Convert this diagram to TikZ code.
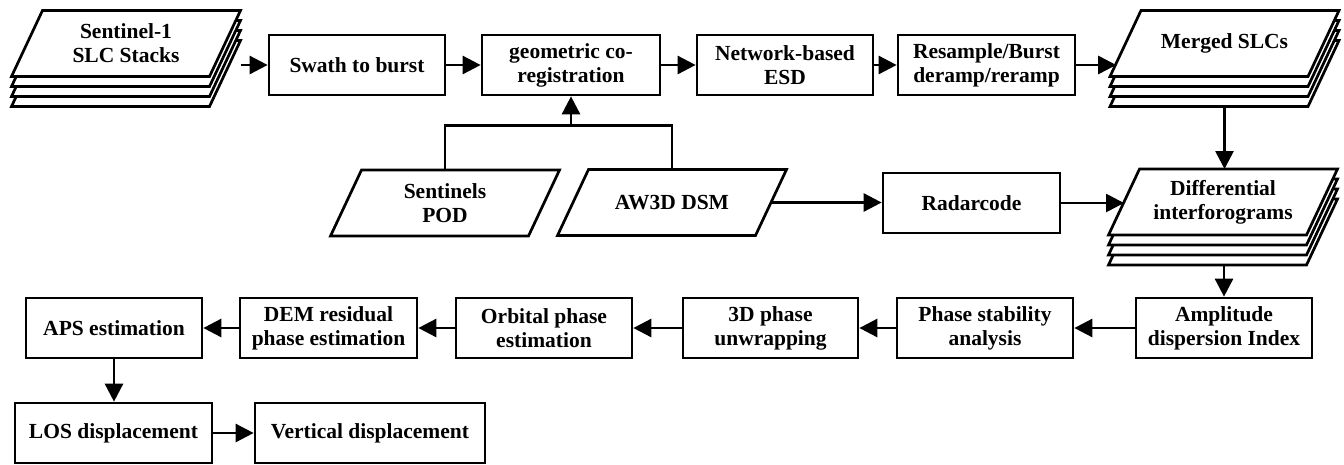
\documentclass[tikz,border=0pt]{standalone}
\usepackage{fontspec}
\setmainfont{Liberation Serif}
\usetikzlibrary{arrows.meta,calc}

\begin{document}
\begin{tikzpicture}[x=1pt,y=-1pt,font=\bfseries\fontsize{21.5}{24}\selectfont,
  box/.style={draw, line width=2.7pt, fill=white, minimum width=176pt, minimum height=60pt, align=center, inner sep=2pt},
  arr/.style={line width=2.7pt, -{Triangle[length=18pt,width=18pt]}},
  pics/sheet/.style={code={
    \filldraw[fill=white, line width=2.7pt] (-114.5,33) -- (-83.5,-33) -- (114.5,-33) -- (83.5,33) -- cycle;
    \node[align=center, inner sep=0pt] (-c) at (0,0) {#1};
    \coordinate (-t) at (0,-33);
    \coordinate (-b) at (0,33);
    \coordinate (-l) at (-99,0);
    \coordinate (-r) at (99,0);
    \coordinate (-tr) at (114.5,-33);
    \coordinate (-bl) at (-114.5,33);
  }}]
\useasboundingbox (0,0) rectangle (1344,464);
% stacks
\foreach \d in {30,20,10}
  \pic (s\d) at (126,43.5+\d) {sheet={}};
\pic (s1) at (126,43.5) {sheet={Sentinel-1\\SLC Stacks}};
\foreach \d in {30,20,10}
  \pic (m\d) at (1224.5,43.5+\d) {sheet={}};
\pic (m) at (1224.5,43.5) {sheet={Merged SLCs}};
\foreach \d in {30,20,10}
  \pic (d\d) at (1223,202+\d) {sheet={}};
\pic (d) at (1223,202) {sheet={Differential\\interforograms}};
% inputs
\pic (pod) at (445,203) {sheet={Sentinels\\POD}};
\pic (aw) at (672,202.5) {sheet={AW3D DSM}};
% top row
\node[box] (swath) at (357,65) {Swath to burst};
\node[box, minimum width=178pt] (geo) at (571,65) {geometric co-\\registration};
\node[box] (net) at (785,65) {Network-based\\ESD};
\node[box, minimum width=177pt] (res) at (986.5,65) {Resample/Burst\\deramp/reramp};
\node[box, minimum width=177pt] (rad) at (971.5,203) {Radarcode};
% bottom rows
\node[box] (amp) at (1224,328) {Amplitude\\dispersion Index};
\node[box] (pha) at (985,328) {Phase stability\\analysis};
\node[box, minimum width=175pt] (unw) at (770.5,328) {3D phase\\unwrapping};
\node[box] (orb) at (544,328) {Orbital phase\\estimation};
\node[box, minimum width=177pt] (dem) at (328.5,328) {DEM residual\\phase estimation};
\node[box] (aps) at (114,328) {APS estimation};
\node[box, minimum width=197pt] (los) at (113.5,433) {LOS displacement};
\node[box, minimum width=230pt] (ver) at (370,433) {Vertical displacement};
% connectors
\draw[arr] (s1-tr |- swath.west) -- (swath.west);
\draw[arr] (swath) -- (geo);
\draw[arr] (geo) -- (net);
\draw[arr] (net) -- (res);
\coordinate (min) at ($(m-l)!0.6!(m-bl)$);
\draw[arr] (res.east) -- (res.east -| min);
\draw[arr] (m30-b) -- (m30-b |- d-t);
\coordinate (tee) at ($(geo.south)+(0,29)$);
\draw[line width=2.7pt] (pod-t) |- (tee) -| (aw-t);
\draw[arr] (tee) -- (geo.south);
\draw[arr] (aw-r) -- (aw-r -| rad.west);
\draw[arr] (rad.east) -- (rad.east -| d-l);
\draw[arr] (amp.north |- d30-b) -- (amp.north);
\draw[arr] (amp) -- (pha);
\draw[arr] (pha) -- (unw);
\draw[arr] (unw) -- (orb);
\draw[arr] (orb) -- (dem);
\draw[arr] (dem) -- (aps);
\draw[arr] (aps.south) -- (aps.south |- los.north);
\draw[arr] (los) -- (ver);
\end{tikzpicture}
\end{document}
